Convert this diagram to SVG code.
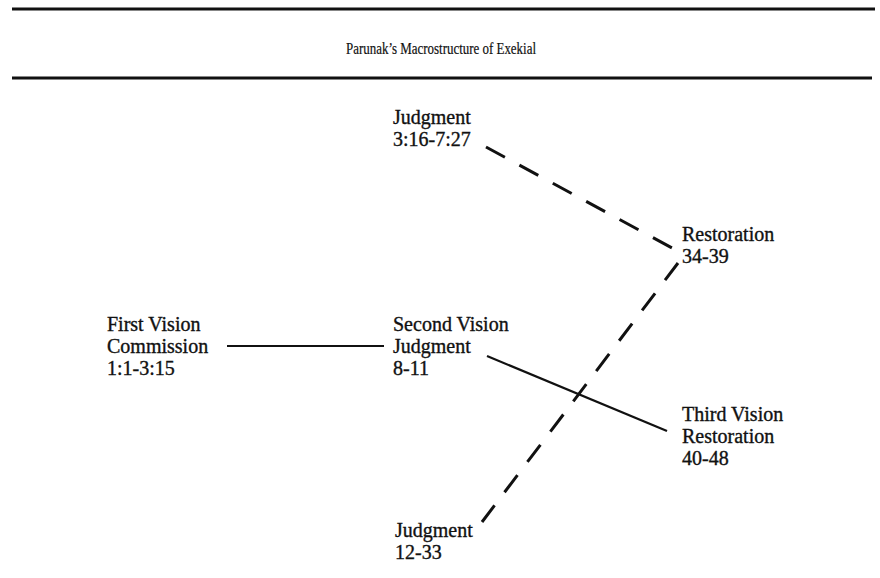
<svg xmlns="http://www.w3.org/2000/svg" width="880" height="578" viewBox="0 0 880 578">
<style>
.lbl{font-family:"Liberation Serif","Times New Roman",serif;font-size:20px;fill:#111;stroke:#111;stroke-width:0.35}
.title{font-family:"Liberation Serif","Times New Roman",serif;font-size:16px;fill:#111;stroke:#111;stroke-width:0.2}
.rule{stroke:#111;stroke-width:3}
.solid{stroke:#111;stroke-width:2.2;fill:none}
.dash{stroke:#111;stroke-width:3;fill:none;stroke-dasharray:21.5 16.5}
</style>
<rect width="880" height="578" fill="#fff"/>
<g id="header">
<line class="rule" x1="12" y1="9" x2="875" y2="9"/>
<text class="title" x="441" y="54" text-anchor="middle" textLength="190" lengthAdjust="spacingAndGlyphs">Parunak’s Macrostructure of Exekial</text>
<line class="rule" x1="12" y1="78" x2="872" y2="78"/>
</g>
<g id="connectors">
<line class="solid" x1="227" y1="346" x2="384" y2="346"/>
<line class="solid" x1="487" y1="356" x2="667" y2="431"/>
<line class="dash" x1="486" y1="147" x2="672" y2="248"/>
<line class="dash" x1="678" y1="263" x2="482" y2="522"/>
</g>
<g id="first-vision">
<text class="lbl" x="107" y="331">First Vision</text>
<text class="lbl" x="107" y="353">Commission</text>
<text class="lbl" x="107" y="375">1:1-3:15</text>
</g>
<g id="second-vision">
<text class="lbl" x="393" y="331">Second Vision</text>
<text class="lbl" x="393" y="353">Judgment</text>
<text class="lbl" x="393" y="375">8-11</text>
</g>
<g id="judgment-1">
<text class="lbl" x="393" y="124">Judgment</text>
<text class="lbl" x="393" y="146">3:16-7:27</text>
</g>
<g id="restoration-1">
<text class="lbl" x="682" y="241">Restoration</text>
<text class="lbl" x="682" y="263">34-39</text>
</g>
<g id="third-vision">
<text class="lbl" x="682" y="421">Third Vision</text>
<text class="lbl" x="682" y="443">Restoration</text>
<text class="lbl" x="682" y="465">40-48</text>
</g>
<g id="judgment-2">
<text class="lbl" x="395" y="537">Judgment</text>
<text class="lbl" x="395" y="559">12-33</text>
</g>
</svg>
